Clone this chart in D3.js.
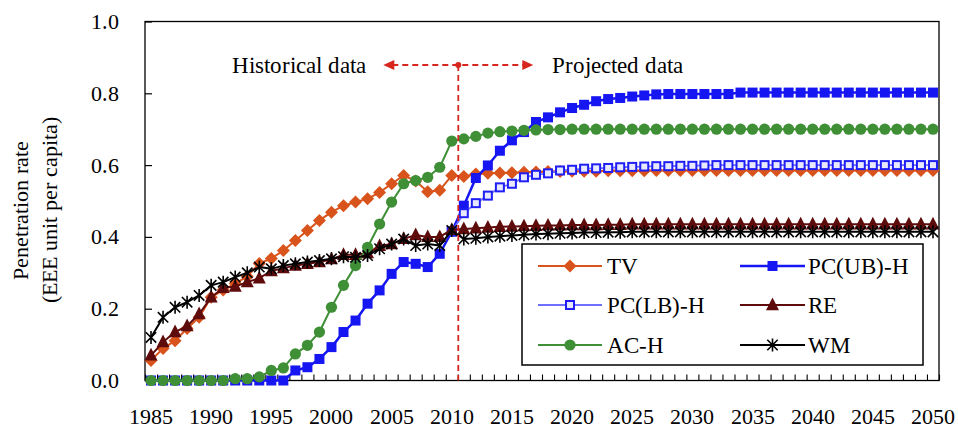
<!DOCTYPE html>
<html><head><meta charset="utf-8">
<script src="https://cdn.jsdelivr.net/npm/d3@7"></script>
<style>
@font-face{font-family:"ChartSerif";src:local("Liberation Serif"),local("LiberationSerif"),local("LiberationSerif-Regular"),local("Times New Roman"),local("DejaVu Serif"),local("DejaVuSerif"),local("Noto Serif"),local("NotoSerif-Regular");}
html,body{margin:0;padding:0;background:#fff;}
svg text{font-family:"ChartSerif","Liberation Serif","Times New Roman","DejaVu Serif",serif !important;fill:#000;}
</style></head>
<body><svg id="c" width="958" height="430"></svg>
<script>
const years = d3.range(1985, 2051);
const xTickLabels = [1985,1990,1995,2000,2005,2010,2015,2020,2025,2030,2035,2040,2045,2050];
const yTicks = [0,0.2,0.4,0.6,0.8,1.0];

const TV = [0.056,0.089,0.111,0.145,0.176,0.232,0.252,0.27,0.29,0.326,
 0.34,0.362,0.39,0.418,0.446,0.469,0.487,0.497,0.506,0.524,
 0.548,0.571,0.556,0.526,0.53,0.571,0.568,0.575,0.577,0.578,
 0.579,0.58,0.581,0.582,0.582,0.583,0.583,0.583,0.584,0.584,
 0.584,0.584,0.585,0.585,0.585,0.585,0.585,0.585,0.585,0.585,
 0.585,0.585,0.585,0.585,0.585,0.585,0.585,0.585,0.585,0.585,
 0.585,0.585,0.585,0.585,0.585,0.585];
const PC_UB = [0,0,0,0,0,0,0,0,0,0,
 0,0,0.028,0.037,0.06,0.093,0.135,0.167,0.214,0.251,
 0.297,0.33,0.325,0.316,0.353,0.415,0.487,0.564,0.599,0.64,
 0.669,0.692,0.72,0.733,0.747,0.759,0.768,0.778,0.784,0.787,
 0.791,0.794,0.797,0.798,0.798,0.798,0.798,0.798,0.798,0.802,
 0.802,0.802,0.802,0.802,0.802,0.802,0.802,0.802,0.802,0.802,
 0.802,0.802,0.802,0.802,0.802,0.802];
const PC_LB = [null,null,null,null,null,null,null,null,null,null,
 null,null,null,null,null,null,null,null,null,null,
 null,null,null,null,null,0.415,0.466,0.494,0.515,0.538,
 0.548,0.566,0.573,0.577,0.585,0.587,0.59,0.591,0.592,0.594,
 0.595,0.596,0.597,0.597,0.598,0.598,0.599,0.6,0.6,0.6,
 0.6,0.6,0.6,0.6,0.6,0.6,0.6,0.6,0.6,0.6,
 0.6,0.6,0.6,0.6,0.6,0.6];
const RE = [0.07,0.107,0.135,0.152,0.185,0.232,0.258,0.262,0.274,0.285,
 0.305,0.313,0.32,0.325,0.33,0.338,0.35,0.35,0.355,0.375,
 0.38,0.395,0.405,0.4,0.4,0.42,0.422,0.424,0.426,0.428,
 0.429,0.43,0.431,0.432,0.432,0.433,0.433,0.433,0.434,0.434,
 0.435,0.435,0.435,0.435,0.435,0.435,0.435,0.435,0.435,0.435,
 0.435,0.435,0.435,0.435,0.435,0.435,0.435,0.435,0.435,0.435,
 0.435,0.435,0.435,0.435,0.435,0.435];
const AC_H = [0,0,0,0,0,0,0,0.005,0.005,0.01,
 0.028,0.035,0.074,0.098,0.135,0.204,0.265,0.32,0.371,0.436,
 0.497,0.548,0.557,0.566,0.594,0.667,0.673,0.68,0.689,0.693,
 0.695,0.697,0.698,0.699,0.699,0.7,0.7,0.7,0.7,0.7,
 0.7,0.7,0.7,0.7,0.7,0.7,0.7,0.7,0.7,0.7,
 0.7,0.7,0.7,0.7,0.7,0.7,0.7,0.7,0.7,0.7,
 0.7,0.7,0.7,0.7,0.7,0.7];
const WM = [0.12,0.176,0.204,0.218,0.237,0.265,0.274,0.288,0.3,0.316,
 0.311,0.32,0.325,0.33,0.334,0.339,0.345,0.343,0.348,0.367,
 0.38,0.394,0.376,0.38,0.376,0.418,0.394,0.396,0.4,0.402,
 0.404,0.406,0.408,0.409,0.41,0.411,0.412,0.412,0.413,0.413,
 0.414,0.414,0.414,0.414,0.414,0.414,0.414,0.414,0.414,0.414,
 0.414,0.414,0.414,0.414,0.414,0.414,0.414,0.414,0.414,0.414,
 0.414,0.414,0.414,0.414,0.414,0.414];

const seriesNames = ["TV","PC(UB)-H","PC(LB)-H","RE","AC-H","WM"];
const seriesValues = [TV, PC_UB, PC_LB, RE, AC_H, WM];
const seriesStyle = [
  {color:"#D9541C", lw:2, marker:"diamond"},
  {color:"#1616F2", lw:2.5, marker:"square"},
  {color:"#6E6EFF", lw:1.8, marker:"opensquare", mcolor:"#1E1EF5"},
  {color:"#5E0B0B", lw:2, marker:"triangle"},
  {color:"#3F8F37", lw:2, marker:"circle"},
  {color:"#000000", lw:2, marker:"star"}
];

const FONT = '"ChartSerif","Liberation Serif","Times New Roman","DejaVu Serif",serif';
const svg = d3.select("#c");
const L=145, R=939, T=21.5, B=380.5;
const x = d3.scaleBand().domain(years).range([L,R]).padding(0);
const xc = d => x(d)+x.bandwidth()/2;
const y = d3.scaleLinear().domain([0,1]).range([B,T]);
const xb = d3.scaleLinear().domain([0, years.length]).range([L,R]);

// frame
svg.append("rect").attr("x",L).attr("y",T).attr("width",R-L).attr("height",B-T)
  .attr("fill","none").attr("stroke","#000").attr("stroke-width",1.3);

// y axis
const ya = svg.append("g").attr("transform",`translate(${L},0)`)
  .call(d3.axisLeft(y).tickValues(yTicks).tickFormat(d3.format(".1f")).tickSize(-7).tickPadding(26));
ya.attr("font-family",FONT);
ya.select(".domain").remove();
ya.selectAll("line").attr("stroke","#000").attr("stroke-width",1.2);
ya.selectAll("text").style("font-size","22px");

// x axis boundary ticks
const xt = svg.append("g").attr("transform",`translate(0,${B})`)
  .call(d3.axisBottom(xb).tickValues(d3.range(0, years.length+1)).tickSize(-6).tickFormat(""));
xt.select(".domain").remove();
xt.selectAll("line").attr("stroke","#000").attr("stroke-width",1.1);
// x labels
const xl = svg.append("g").attr("transform",`translate(0,${B})`)
  .call(d3.axisBottom(x).tickValues(xTickLabels).tickSize(0).tickPadding(28));
xl.attr("font-family",FONT);
xl.select(".domain").remove();
xl.selectAll("text").style("font-size","22px");

// y title
const yt = svg.append("text").attr("transform","translate(28,210) rotate(-90)")
  .attr("text-anchor","middle").style("font-size","22px");
yt.append("tspan").attr("x",0).attr("y",0).text("Penetration rate");
yt.append("tspan").attr("x",0).attr("y",28.5).text("(EEE unit per capita)");

// marker drawing
function drawMarker(g, type, cx, cy, st){
  const c = st.mcolor || st.color;
  if(type==="diamond"){
    const s=6.5;
    g.append("path").attr("d",`M${cx},${cy-s}L${cx+s},${cy}L${cx},${cy+s}L${cx-s},${cy}Z`).attr("fill",c);
  } else if(type==="square"){
    const s=5;
    g.append("rect").attr("x",cx-s).attr("y",cy-s).attr("width",2*s).attr("height",2*s).attr("fill",c);
  } else if(type==="opensquare"){
    const s=4;
    g.append("rect").attr("x",cx-s).attr("y",cy-s).attr("width",2*s).attr("height",2*s)
      .attr("fill","#E8E8FF").attr("stroke",c).attr("stroke-width",2);
  } else if(type==="triangle"){
    const s=6.5;
    g.append("path").attr("d",`M${cx},${cy-s-1}L${cx+s},${cy+s*0.8}L${cx-s},${cy+s*0.8}Z`).attr("fill",c);
  } else if(type==="circle"){
    g.append("circle").attr("cx",cx).attr("cy",cy).attr("r",5.6).attr("fill",c);
  } else if(type==="star"){
    const s=6.5, d=s*0.8;
    g.append("path").attr("d",`M${cx},${cy-s}L${cx},${cy+s}M${cx-d},${cy-d}L${cx+d},${cy+d}M${cx-d},${cy+d}L${cx+d},${cy-d}`)
      .attr("stroke",c).attr("stroke-width",1.6).attr("fill","none");
  }
}

// series
seriesValues.forEach((vals, i) => {
  const st = seriesStyle[i];
  const data = years.map((yr,j)=>({yr, v: vals[j]}));
  const g = svg.append("g");
  const line = d3.line().defined(d=>d.v!==null).x(d=>xc(d.yr)).y(d=>y(d.v));
  g.append("path").datum(data).attr("d",line).attr("fill","none")
    .attr("stroke",st.color).attr("stroke-width",st.lw).attr("stroke-linejoin","round");
  data.filter(d=>d.v!==null).forEach(d=>drawMarker(g, st.marker, xc(d.yr), y(d.v), st));
});

// annotation
const red = "#D7261E";
const splitX = x(2011)+0.5;
const annY = 65;
svg.append("line").attr("x1",splitX).attr("x2",splitX).attr("y1",annY).attr("y2",B)
  .attr("stroke",red).attr("stroke-width",1.8).attr("stroke-dasharray","6,4");
svg.append("line").attr("x1",splitX-66).attr("x2",splitX+66).attr("y1",annY).attr("y2",annY)
  .attr("stroke",red).attr("stroke-width",1.8).attr("stroke-dasharray","6,4");
svg.append("path").attr("d",`M${splitX-75},${annY}L${splitX-64},${annY-5}L${splitX-64},${annY+5}Z`).attr("fill",red);
svg.append("path").attr("d",`M${splitX+75},${annY}L${splitX+64},${annY-5}L${splitX+64},${annY+5}Z`).attr("fill",red);
svg.append("circle").attr("cx",splitX).attr("cy",annY).attr("r",3).attr("fill",red);
svg.append("text").attr("x",366).attr("y",73).attr("text-anchor","end").style("font-size","23px").text("Historical data");
svg.append("text").attr("x",552).attr("y",73).attr("text-anchor","start").style("font-size","23px").text("Projected data");

// legend
const lg = svg.append("g");
lg.append("rect").attr("x",522).attr("y",244).attr("width",401).attr("height",121)
  .attr("fill","#fff").attr("stroke","#000").attr("stroke-width",1.5);
const rowsY = [266,305,345];
const cols = [{x1:538,x2:602,tx:607},{x1:740,x2:805,tx:808}];
seriesNames.forEach((name,i)=>{
  const st = seriesStyle[i];
  const col = cols[i%2], ry = rowsY[Math.floor(i/2)];
  lg.append("line").attr("x1",col.x1).attr("x2",col.x2).attr("y1",ry).attr("y2",ry)
    .attr("stroke",st.color).attr("stroke-width",st.lw);
  drawMarker(lg, st.marker, (col.x1+col.x2)/2, ry, st);
  lg.append("text").attr("x",col.tx).attr("y",ry+8).style("font-size","22.5px").text(name);
});
</script></body></html>
